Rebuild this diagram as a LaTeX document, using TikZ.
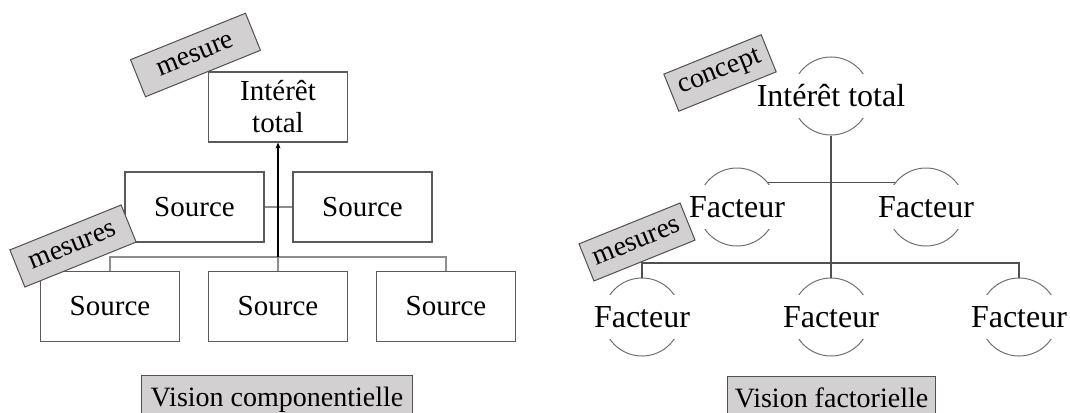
\documentclass[tikz,border=0pt]{standalone}
\usepackage{fontspec}
\setmainfont{Liberation Serif}
\usetikzlibrary{arrows.meta}
\definecolor{boxc}{HTML}{5A5A5A}
\definecolor{connc}{HTML}{8C8C8C}
\definecolor{tagb}{HTML}{505050}
\definecolor{tagc}{HTML}{D2D0D0}
\definecolor{ringc}{HTML}{707070}
\definecolor{flinec}{HTML}{505050}
\begin{document}
\begin{tikzpicture}[x=1pt,y=-1pt,
  box/.style={draw=boxc, line width=1.2pt, minimum width=139pt, minimum height=70pt, inner sep=0pt, font=\fontsize{29}{32}\selectfont},
  conn/.style={draw=connc, line width=1.2pt},
  arr/.style={draw=black, line width=1.2pt, -{Stealth[length=6pt,width=5pt]}},
  tag/.style={draw=tagb, fill=tagc, line width=1pt, rotate=22, minimum height=40pt, inner sep=0pt, font=\fontsize{28}{30}\selectfont},
  lab/.style={draw=tagb, fill=tagc, line width=1pt, inner xsep=0pt, inner ysep=10.5pt, text height=20pt, text depth=6pt, anchor=north west, font=\fontsize{28}{30}\selectfont},
  ring/.style={circle, draw=ringc, line width=1pt, minimum size=78pt, inner sep=0pt},
  ftxt/.style={fill=white, minimum height=44pt, inner xsep=1pt, inner ysep=0pt, font=\fontsize{32}{36}\selectfont},
  fline/.style={draw=flinec, line width=1.2pt}]
\path[use as bounding box] (0,0) rectangle (1070,412);
\clip (0,0) rectangle (1070,412);

% ---------- left: componential view ----------
\node[box, align=center] (it) at (278,107) {Intérêt\\total};
\node[box] (ml) at (194.5,207) {Source};
\node[box] (mr) at (362.5,207) {Source};
\node[box] (bl) at (110,306.5) {Source};
\node[box] (bm) at (278,306.5) {Source};
\node[box] (br) at (446,306.5) {Source};
\coordinate (j) at (278,257);
\draw[conn] (ml.east) -- (mr.west);
\draw[conn] (bl.north) |- (j) -| (br.north);
\draw[conn] (bm.north) -- (j);
\draw[arr] (j) -- (it.south);

% ---------- right: factorial view ----------
\node[ring] (r0) at (831,96) {};
\node[ring] (r1) at (737,207) {};
\node[ring] (r2) at (926,207) {};
\node[ring] (r3) at (642,317) {};
\node[ring] (r4) at (831,317) {};
\node[ring] (r5) at (1019,317) {};
\coordinate (k) at (831,263);
\draw[fline] (r0.south) -- (r4.north);
\draw[fline] (r1.38) -- (r2.142);
\draw[fline] (r3.north) |- (k) -| (r5.north);
\node[ftxt] (f0) at (r0) {Intérêt total};
\node[ftxt] (f1) at (r1) {Facteur};
\node[ftxt] (f2) at (r2) {Facteur};
\node[ftxt] (f3) at (r3) {Facteur};
\node[ftxt] (f4) at (r4) {Facteur};
\node[ftxt] (f5) at (r5) {Facteur};

% ---------- tags ----------
\node[tag, minimum width=124pt] (t1) at (195.5,55) {mesure};
\node[tag, minimum width=120pt] (t2) at (73,246) {mesures};
\node[tag, minimum width=105pt] (t3) at (720,73) {concept};
\node[tag, minimum width=109pt] (t4) at (637,242) {mesures};

% ---------- captions ----------
\node[lab, minimum width=271pt] (l1) at (141,375) {Vision componentielle};
\node[lab, minimum width=208pt] (l2) at (727,376) {Vision factorielle};
\end{tikzpicture}
\end{document}
